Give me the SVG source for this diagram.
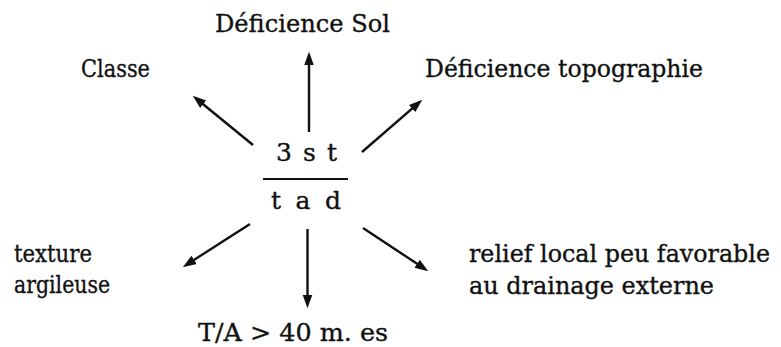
<svg xmlns="http://www.w3.org/2000/svg" width="781" height="347" viewBox="0 0 781 347">
<style>
  text { font-family: 'DejaVu Serif', serif; font-size: 25px; fill: #111; stroke: #111; stroke-width: 0.35; }
  .conn { stroke: #111; stroke-width: 2.4; fill: none; marker-end: url(#ah); }
  .r { font-size: 24px; }
</style>
<defs>
  <marker id="ah" markerUnits="userSpaceOnUse" markerWidth="14" markerHeight="12" viewBox="0 0 13 10" refX="8.5" refY="5" orient="auto">
    <path d="M0,0.5 L12.5,5 L0,9.5 z" fill="#111"/>
  </marker>
</defs>
<rect width="781" height="347" fill="#fff"/>
<g id="center">
  <text x="276" y="161" textLength="61" lengthAdjust="spacing">3 s t</text>
  <line x1="263" y1="179" x2="348" y2="179" stroke="#111" stroke-width="2.2"/>
  <text x="271" y="209" textLength="70" lengthAdjust="spacing">t a d</text>
</g>
<g id="deficience-sol"><text x="215" y="32" textLength="175" lengthAdjust="spacingAndGlyphs">Déficience Sol</text></g>
<g id="classe"><text x="81" y="77" textLength="69" lengthAdjust="spacingAndGlyphs">Classe</text></g>
<g id="deficience-topo"><text x="425" y="77" textLength="278" lengthAdjust="spacingAndGlyphs">Déficience topographie</text></g>
<g id="texture">
  <text x="14" y="262" textLength="78" lengthAdjust="spacingAndGlyphs">texture</text>
  <text x="14" y="293" textLength="96" lengthAdjust="spacingAndGlyphs">argileuse</text>
</g>
<g id="relief">
  <text class="r" x="469" y="262" textLength="301" lengthAdjust="spacingAndGlyphs">relief local peu favorable</text>
  <text class="r" x="469" y="294" textLength="245" lengthAdjust="spacingAndGlyphs">au drainage externe</text>
</g>
<g id="ta"><text x="198" y="341" textLength="190" lengthAdjust="spacingAndGlyphs">T/A &gt; 40 m. es</text></g>
<g id="connectors">
  <line class="conn" x1="253" y1="145" x2="196.1" y2="98.5"/>
  <line class="conn" x1="309" y1="132" x2="309" y2="56"/>
  <line class="conn" x1="362" y1="152" x2="419" y2="102.6"/>
  <line class="conn" x1="250" y1="224" x2="186.4" y2="264.8"/>
  <line class="conn" x1="307.5" y1="229" x2="307.5" y2="304"/>
  <line class="conn" x1="363" y1="228" x2="424.7" y2="268.8"/>
</g>
</svg>
